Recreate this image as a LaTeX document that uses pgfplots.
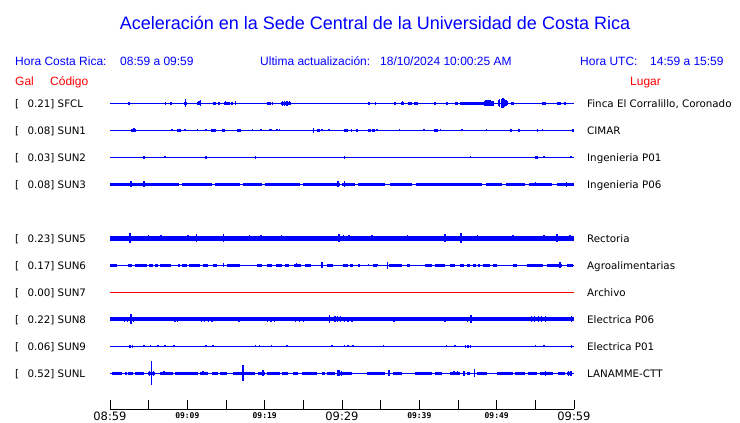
\documentclass[border=0pt]{standalone}
\usepackage{fontspec}
\setmainfont{Liberation Sans}
\newfontfamily\dvs{DejaVu Sans}
\newfontfamily\dvm{DejaVu Sans Mono}
\usepackage{pgfplots}
\pgfplotsset{compat=1.18}
\definecolor{tb}{RGB}{0,0,255}
\definecolor{tr}{RGB}{255,0,0}
\pgfplotsset{
 base/.style={tb, line width=1pt, forget plot},
 seg/.style={tb, draw=none, mark=none, forget plot, error bars/.cd, x dir=plus, x explicit, error mark=none, error bar style={draw=tb, line width=3pt}},
 spk/.style={tb, draw=none, mark=none, forget plot, error bars/.cd, y dir=both, y explicit, error mark=none, error bar style={draw=tb, line width=1.4pt}},
}
\newcommand\bigt{\dvs\fontsize{11.5}{13}\selectfont}
\newcommand\smt{\dvm\bfseries\fontsize{8}{9}\selectfont}
\begin{document}
\begin{tikzpicture}[x=1pt,y=1pt]
\path[use as bounding box] (0,0) rectangle (740,-423);
\begin{axis}[at={(110pt,-409pt)}, anchor=south west, scale only axis,
 width=464pt, height=314pt, xmin=0, xmax=60, ymin=-409, ymax=-95,
 axis x line=bottom, axis y line=none, x axis line style={-, line width=1pt, black},
 xtick={0,5,...,60}, tick align=inside, major tick length=9pt,
 xtick style={line width=1pt, black},
 xticklabels={{\bigt 08:59},{},{\smt 09:09},{},{\smt 09:19},{},{\bigt 09:29},{},{\smt 09:39},{},{\smt 09:49},{},{\bigt 09:59}},
 xticklabel style={anchor=north, inner sep=0pt, yshift=-3pt},
 clip=false]
% ---- SFCL
\addplot[base] coordinates {(0,-103)(60,-103)};
\addplot[seg] table[x index=0, y expr=-103, x error plus expr=\thisrowno{1}-\thisrowno{0}] {
2.3 2.6
9.6 10.0
11.3 11.8
13.3 13.7
14.0 14.2
14.7 15.5
15.7 15.9
20.3 20.8
22.1 23.4
33.3 33.6
36.7 37.0
37.6 38.0
38.5 39.0
39.3 39.8
44.6 45.0
45.3 48.4
55.9 56.2
57.8 58.3
58.7 59.0
};
\addplot[spk] table[x index=0, y expr=-103, y error index=1] {
7.2 1.5
7.9 1.5
9.8 4
11.5 2
11.7 3
14.9 2
16.2 2
21.0 1.5
22.3 2.5
22.6 2.5
22.9 2.5
23.2 2
34.3 1.5
37.8 2
42.0 1.5
43.6 1.5
48.4 2.5
48.6 3
48.8 3
49.0 3
49.2 3
49.4 2.5
49.6 2.5
50.2 3
50.4 4
50.6 4.5
50.8 5
51.0 4
51.2 3
51.4 2
51.9 1.5
52.1 1.5
56.3 1.5
};
% ---- SUN1
\addplot[base] coordinates {(0,-130)(60,-130)};
\addplot[seg] table[x index=0, y expr=-130, x error plus expr=\thisrowno{1}-\thisrowno{0}] {
2.7 3.4
8.7 9.2
13.1 13.7
14.5 14.9
16.4 17.0
26.8 27.2
30.3 30.8
31.1 31.3
31.8 32.1
33.4 33.7
33.9 34.3
41.9 42.4
51.7 52.0
52.8 53.0
55.2 55.4
59.7 60.0
};
\addplot[spk] table[x index=0, y expr=-130, y error index=1] {
3.1 2
8.0 1
9.7 1
11.3 1
12.4 1
18.4 1
19.5 1
20.7 1
20.9 1
21.6 1
21.9 1
26.3 2.5
27.4 1
28.3 1
34.5 1
37.4 1
40.6 1
42.7 1
45.5 1
48.7 1
55.9 1.2
};
% ---- SUN2
\addplot[base] coordinates {(0,-157)(60,-157)};
\addplot[spk] table[x index=0, y expr=-157, y error index=1] {
4.4 1.5
7.1 1
12.4 1.5
12.5 1.5
18.8 1.5
30.3 1.5
46.6 1
55.1 1.5
55.3 1.5
56.1 1
59.6 1
};
% ---- SUN3
\addplot[base] coordinates {(0,-184)(60,-184)};
\addplot[seg] table[x index=0, y expr=-184, x error plus expr=\thisrowno{1}-\thisrowno{0}] {
0 8.9
9.3 13.2
13.6 16.8
17.2 19.7
20.0 24.6
25.0 29.7
30.0 31.7
32.1 35.6
36.2 39.1
39.6 48.1
48.6 50.7
51.2 53.7
54.2 57.2
57.8 60
};
\addplot[spk] table[x index=0, y expr=-184, y error index=1] {
2.7 3
4.4 3
29.5 3
30.3 3
55.0 2
59.0 2.5
};
% ---- SUN5
\addplot[tb, line width=5pt, forget plot] coordinates {(0,-238)(60,-238)};
\addplot[spk] table[x index=0, y expr=-238, y error index=1] {
2.6 5
5.0 3
6.6 3
10.1 3
11.2 4
14.7 4
18.0 3
19.5 3
22.2 3
29.6 4
30.2 3
30.9 3
33.9 3
38.5 3
43.3 4
45.4 5
47.5 3
52.1 3
56.1 3
57.8 4
59.5 3
};
% ---- SUN6
\addplot[base] coordinates {(0,-265)(60,-265)};
\addplot[seg] table[x index=0, y expr=-265, x error plus expr=\thisrowno{1}-\thisrowno{0}] {
0 0.9
2.3 2.8
3.2 4.8
5.0 5.6
5.8 6.2
6.5 7.9
8.8 9.1
9.3 10.0
10.2 11.6
12.0 12.7
13.3 13.8
15.1 16.8
19.0 19.7
20.3 21.0
21.5 22.2
22.6 23.1
23.8 24.7
25.2 26.0
28.1 28.8
30.1 30.8
31.0 31.4
32.1 32.3
34.0 34.5
36.2 37.8
38.4 38.8
40.7 41.6
42.0 43.3
44.0 44.6
45.3 45.8
46.2 46.6
47.0 47.3
47.6 47.9
48.2 49.1
49.5 50.0
52.1 52.6
53.9 56.0
56.5 58.4
59.1 59.9
};
\addplot[spk] table[x index=0, y expr=-265, y error index=1] {
2.6 1.5
14.7 2
24.1 2
27.4 3
33.4 1
34.5 1
35.9 3.5
36.2 1.5
58.2 3
};
% ---- SUN7
\addplot[tr, line width=1pt, forget plot] coordinates {(0,-292)(60,-292)};
% ---- SUN8
\addplot[tb, line width=3.5pt, forget plot] coordinates {(0,-319)(60,-319)};
\addplot[spk] table[x index=0, y expr=-319, y error index=1] {
1.9 2.5
2.3 2.5
2.7 5
3.0 2.5
3.2 2
5.2 2
6.2 2
8.4 2.5
8.7 2.5
11.8 2.5
12.2 2.5
12.7 2.5
13.2 2.5
16.7 2.5
20.4 2.5
20.8 2.5
21.3 2.5
24.0 2.5
24.5 2.5
25.0 2.5
28.4 4
29.1 3
29.4 3
29.8 3
30.3 2.5
30.8 2.5
31.3 2.5
34.6 2
36.7 2.5
40.0 2
43.3 2.5
46.2 2.5
46.7 4
52.8 2
54.5 3
54.9 3
55.4 3
55.8 3
56.3 3
59.7 3
};
% ---- SUN9
\addplot[base] coordinates {(0,-346)(60,-346)};
\addplot[spk] table[x index=0, y expr=-346, y error index=1] {
2.6 1.5
2.9 1.5
4.4 1
5.2 1
6.2 1
7.1 1
8.3 1
12.4 1
13.3 1
18.8 1.2
19.3 1.2
20.9 1
22.9 1
28.7 1
30.3 1.2
30.8 1.2
31.4 1.2
35.4 1
43.5 1
44.6 1
46.0 1.5
46.3 1.5
46.6 1.5
55.0 1
56.1 1
59.7 1.5
};
% ---- SUNL
\addplot[base] coordinates {(0,-373)(60,-373)};
\addplot[seg] table[x index=0, y expr=-373, x error plus expr=\thisrowno{1}-\thisrowno{0}] {
0.3 1.5
1.9 2.2
2.3 3.0
3.2 4.4
4.9 5.8
6.5 8.1
8.4 11.4
11.6 12.7
13.2 14.0
14.2 15.1
15.9 17.1
17.3 18.8
19.1 20.0
20.3 22.0
22.2 23.0
23.7 24.3
24.8 26.8
27.4 27.8
28.1 29.1
29.4 31.3
33.2 35.6
36.6 37.8
39.4 41.6
42.0 42.9
44.0 45.3
46.2 46.6
47.5 48.8
50.0 52.1
52.4 53.7
54.1 55.2
55.6 57.3
57.9 58.8
59.1 59.7
};
\addplot[spk] table[x index=0, y expr=-373, y error index=1] {
5.1 2.5
5.4 12
5.6 2.5
7.0 2
9.0 1.5
12.0 2
17.2 8
19.8 3
29.5 3
29.7 3
29.9 2.5
36.1 3
44.5 2
44.9 2
45.8 2.5
47.1 4
56.3 2.5
59.3 2.5
59.6 2.5
};
\end{axis}
% ---- texts
\node[anchor=base, inner sep=0, text=tb, font=\fontsize{18}{20}\selectfont] at (375,-29) {Aceleración en la Sede Central de la Universidad de Costa Rica};
\begin{scope}[every node/.style={anchor=base west, inner sep=0, text=tb, font=\fontsize{12}{14}\selectfont}]
\node at (15,-65.5) {Hora Costa Rica:};
\node at (120,-65.5) {08:59 a 09:59};
\node at (260,-65.5) {Ultima actualización:};
\node at (380,-65.5) {18/10/2024 10:00:25 AM};
\node at (580,-65.5) {Hora UTC:};
\node at (650,-65.5) {14:59 a 15:59};
\end{scope}
\begin{scope}[every node/.style={anchor=base west, inner sep=0, text=tr, font=\fontsize{12}{14}\selectfont}]
\node at (15,-85) {Gal};
\node at (50,-85) {Código};
\node at (630,-85) {Lugar};
\end{scope}
\begin{scope}[every node/.style={anchor=base west, inner sep=0, font=\dvs\fontsize{10.3}{12}\selectfont}]
\node at (15,-107) {[}; \node at (27.3,-107) {0.21] SFCL}; \node at (587,-107) {Finca El Corralillo, Coronado};
\node at (15,-134) {[}; \node at (27.3,-134) {0.08] SUN1}; \node at (587,-134) {CIMAR};
\node at (15,-161) {[}; \node at (27.3,-161) {0.03] SUN2}; \node at (587,-161) {Ingenieria P01};
\node at (15,-188) {[}; \node at (27.3,-188) {0.08] SUN3}; \node at (587,-188) {Ingenieria P06};
\node at (15,-242) {[}; \node at (27.3,-242) {0.23] SUN5}; \node at (587,-242) {Rectoria};
\node at (15,-269) {[}; \node at (27.3,-269) {0.17] SUN6}; \node at (587,-269) {Agroalimentarias};
\node at (15,-296) {[}; \node at (27.3,-296) {0.00] SUN7}; \node at (587,-296) {Archivo};
\node at (15,-323) {[}; \node at (27.3,-323) {0.22] SUN8}; \node at (587,-323) {Electrica P06};
\node at (15,-350) {[}; \node at (27.3,-350) {0.06] SUN9}; \node at (587,-350) {Electrica P01};
\node at (15,-377) {[}; \node at (27.3,-377) {0.52] SUNL}; \node at (587,-377) {LANAMME-CTT};
\end{scope}
\end{tikzpicture}
\end{document}
